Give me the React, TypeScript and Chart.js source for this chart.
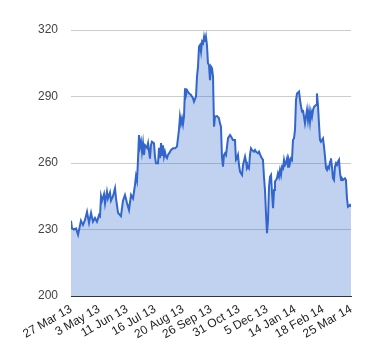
import React, { useEffect, useRef } from "react";
import { Chart, registerables } from "chart.js";

Chart.register(...registerables);

// Trading-day index (0 = 27 Mar 13, 250 = 25 Mar 14)
const DAYS = [
  0, 0.9, 2.7, 4.5, 6.3, 8.9, 10.7, 12.5, 14.3, 16.1, 17.9, 19.6, 21.4, 23.2, 25.0, 25.9, 26.8, 27.7, 29.5, 30.4,
  32.1, 33.0, 34.8, 35.7, 37.5, 39.3, 40.2, 42.0, 44.6, 46.4, 48.2, 50.0, 51.8, 53.6, 55.4, 57.1, 58.0, 58.9, 59.8, 60.7,
  61.6, 62.5, 63.4, 64.3, 65.2, 66.1, 67.9, 68.8, 70.5, 71.4, 72.3, 74.1, 75.0, 75.9, 77.7, 78.6, 79.5, 80.4, 81.3, 82.1,
  83.0, 83.9, 84.8, 85.7, 86.6, 88.4, 89.3, 91.1, 92.9, 94.6, 96.4, 97.3, 98.2, 99.1, 100.0, 100.9, 101.8, 102.7, 103.6, 105.4,
  107.1, 108.9, 109.8, 111.6, 112.5, 113.4, 114.3, 115.2, 116.1, 117.0, 117.9, 118.8, 119.6, 120.5, 121.4, 122.3, 123.2, 124.1, 125.0, 125.9,
  126.8, 127.7, 128.6, 130.4, 132.1, 133.0, 133.9, 134.8, 135.7, 136.6, 137.5, 138.4, 139.3, 140.2, 142.0, 142.9, 144.6, 146.4, 147.3, 148.2,
  149.1, 150.0, 150.9, 152.7, 153.6, 155.4, 156.3, 157.1, 158.0, 158.9, 159.8, 160.7, 161.6, 163.4, 164.3, 165.2, 167.0, 167.9, 169.6, 170.5,
  171.4, 172.3, 173.2, 174.1, 175.0, 175.9, 176.8, 177.7, 178.6, 179.5, 180.4, 181.3, 182.1, 183.0, 183.9, 184.8, 185.7, 186.6, 187.5, 188.4,
  189.3, 190.2, 191.1, 192.0, 192.9, 193.8, 194.6, 195.5, 196.4, 197.3, 198.2, 199.1, 200.0, 200.9, 201.8, 203.6, 204.5, 205.4, 206.3, 207.1,
  208.0, 208.9, 209.8, 210.7, 211.6, 212.5, 213.4, 214.3, 215.2, 216.1, 217.0, 218.8, 219.6, 220.5, 221.4, 222.3, 223.2, 224.1, 225.0, 225.9,
  226.8, 227.7, 228.6, 229.5, 230.4, 231.3, 232.1, 233.0, 233.9, 234.8, 235.7, 236.6, 237.5, 238.4, 239.3, 240.2, 241.1, 241.9, 242.9, 244.6,
  245.5, 246.4, 247.3, 249.1, 250.0,
];

const PRICES = [
  234, 230.5, 230, 230.5, 227.6, 234, 232, 234.3, 238, 233, 237.5, 233.5, 235.2, 233.5, 236.5, 236, 245, 243, 246, 241.7,
  247, 244, 246.7, 243, 245, 248.6, 244, 237.5, 236, 243, 245.6, 242, 238.8, 245.6, 244, 250, 254, 252, 261, 272.6,
  267.4, 269.6, 265, 268.9, 263.6, 268, 266.8, 268.9, 262, 268, 269.6, 268.9, 262.8, 259.9, 259.9, 266.8, 262.2, 269, 263.6, 268,
  262.9, 265, 262.9, 262.2, 263.6, 265, 265.9, 266.6, 266.6, 267.4, 274.9, 280.9, 277.9, 280.2, 277.5, 281, 293.7, 290.7, 292.9, 291.4,
  290.7, 289.2, 287.7, 290, 299, 303.5, 312.5, 313.2, 310.2, 314.7, 314, 317, 314.7, 317, 313.2, 305, 304.2, 297.4, 303.5, 302.7,
  299, 276.4, 281, 281.2, 280.2, 277.9, 276.4, 262.8, 258.3, 263.6, 264.4, 263.6, 267.4, 271.2, 272.6, 271.9, 270.4, 270.4, 261.4, 262.1,
  263.6, 259.1, 256.1, 254.6, 259.1, 262.9, 260.6, 257.6, 258.3, 257.6, 263.6, 266.6, 265.9, 265.1, 265.9, 265.1, 264.4, 265.1, 262.9, 262.1,
  261.4, 253.8, 247.8, 237.3, 228.3, 234.3, 249.3, 253.8, 254.6, 246.3, 239.6, 247.8, 251.6, 252.3, 253.1, 255.3, 253.8, 256.8, 254.6, 258.3,
  257.6, 261.4, 259.1, 260, 262, 258.3, 261.4, 259.9, 262, 261.4, 270.4, 271.1, 274.9, 288.4, 291.4, 292.2, 288.4, 285.4, 283.1, 283.9,
  280.9, 277.9, 280.9, 283.9, 279.4, 283.1, 278.6, 283.1, 280.9, 283.9, 285.4, 286.2, 291.4, 286.2, 277.9, 270.4, 269.6, 270.4, 271.1, 267.4,
  262.9, 257.6, 256.8, 258.3, 257.6, 260.6, 262.1, 258.3, 253.1, 252.3, 258.3, 259.9, 259.1, 260.6, 261.4, 255.3, 252.3, 253.1, 252.3, 253.1,
  252.3, 244.1, 240.3, 241.1, 240.3,
];

const X_TICK_LABELS = [
  "27 Mar 13", "3 May 13", "11 Jun 13", "16 Jul 13", "20 Aug 13", "26 Sep 13",
  "31 Oct 13", "5 Dec 13", "14 Jan 14", "18 Feb 14", "25 Mar 14",
];
const X_TICK_STEP = 25;
const Y_MIN = 200;
const Y_MAX = 320;
const Y_STEP = 30;

const FONT = "'Liberation Sans', Arial, sans-serif";

export default function App() {
  const ref = useRef<HTMLCanvasElement | null>(null);

  useEffect(() => {
    document.body.style.margin = "0";
    if (!ref.current) return;
    const chart = new Chart(ref.current, {
      type: "line",
      data: {
        datasets: [
          {
            data: DAYS.map((d, i) => ({ x: d, y: PRICES[i] })),
            borderColor: "#3366cc",
            backgroundColor: "rgba(51,102,204,0.3)",
            borderWidth: 2,
            fill: "origin",
            pointRadius: 0,
            tension: 0,
          },
        ],
      },
      options: {
        animation: false,
        responsive: false,
        maintainAspectRatio: false,
        layout: { padding: { left: 0, right: 29, top: 30, bottom: 0 } },
        plugins: { legend: { display: false }, tooltip: { enabled: false } },
        scales: {
          x: {
            type: "linear",
            min: 0,
            max: (X_TICK_LABELS.length - 1) * X_TICK_STEP,
            afterFit: (axis: any) => {
              axis.height = 64;
            },
            afterBuildTicks: (axis: any) => {
              axis.ticks = X_TICK_LABELS.map((_, i) => ({ value: i * X_TICK_STEP }));
            },
            grid: { display: false, drawTicks: false },
            border: { display: true, color: "#333333", width: 1 },
            ticks: {
              autoSkip: false,
              maxRotation: 30,
              minRotation: 30,
              padding: 6,
              color: "#222222",
              font: { family: FONT, size: 12 },
              callback: (v: any) => X_TICK_LABELS[Math.round(Number(v) / X_TICK_STEP)] ?? "",
            },
          },
          y: {
            min: Y_MIN,
            max: Y_MAX,
            afterFit: (axis: any) => {
              axis.width = 71;
            },
            grid: { color: "#cccccc", lineWidth: 1, drawTicks: false },
            border: { display: false },
            ticks: {
              stepSize: Y_STEP,
              padding: 13,
              color: "#444444",
              font: { family: FONT, size: 12 },
            },
          },
        },
      },
    });
    return () => chart.destroy();
  }, []);

  return (
    <div style={{ width: 380, height: 360, background: "#ffffff" }}>
      <canvas ref={ref} width={380} height={360} style={{ display: "block" }} />
    </div>
  );
}
